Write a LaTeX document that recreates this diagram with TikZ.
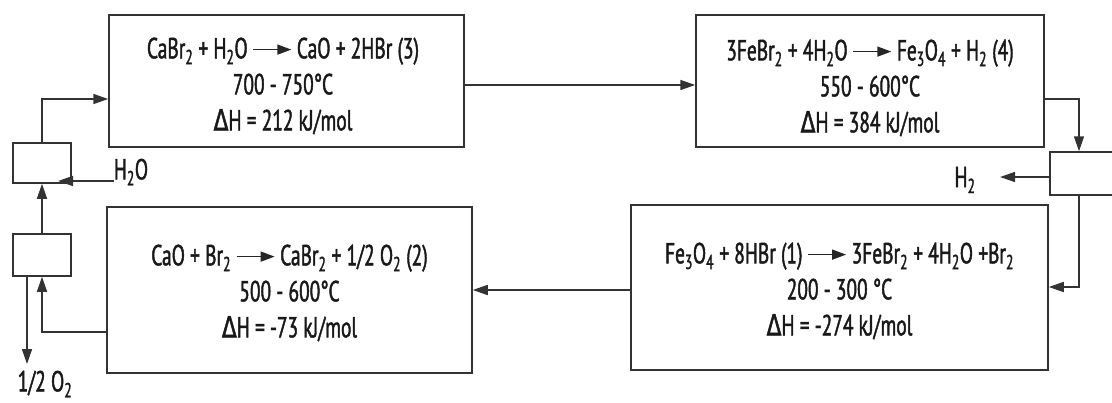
\documentclass[tikz,border=0pt]{standalone}
\usepackage{fontspec}
\setmainfont{PT Sans}[FakeStretch=0.67,FakeBold=1.5]
\newfontfamily\greekfont{DejaVu Sans}[FakeStretch=0.75,FakeBold=1.5]
\usetikzlibrary{arrows.meta}

% reaction arrow used inside the equations
\newcommand{\yields}{\tikz[baseline=-0.6ex,x=1pt,y=1pt]\draw[draw=black!85,line width=1.5pt,-{Triangle[length=14pt,width=10pt]}] (0,0) -- (38,0);}
\newcommand{\sub}[1]{\textsubscript{#1}}
\newcommand{\dH}{{\greekfont Δ}H}

\tikzset{
  reactor/.style={draw=black!80,line width=1.5pt,minimum width=#1,inner sep=0pt},
  unit/.style={draw=black!80,line width=1.5pt,inner sep=0pt},
  eqtext/.style={align=center,font=\fontsize{29}{36}\selectfont,text=black!90,inner sep=0pt},
  lbl/.style={font=\fontsize{29}{30}\selectfont,text=black!90,inner sep=0pt},
  flow/.style={draw=black!80,line width=1.5pt,-{Triangle[length=15pt,width=10pt]}}
}

\begin{document}
\begin{tikzpicture}[x=1pt,y=-1pt]
\useasboundingbox (0,0) rectangle (1112,402);

% reactor boxes
\node[reactor=355pt,minimum height=132pt] (A) at (286.5,81) {};
\node[reactor=348pt,minimum height=132pt] (B) at (870,81) {};
\node[reactor=365pt,minimum height=166pt] (C) at (289.5,290) {};
\node[reactor=417pt,minimum height=165pt] (D) at (839.5,287.5) {};

% separators
\node[unit,minimum width=80pt,minimum height=43pt] (R) at (1090,173.5) {};
\node[unit,minimum width=58pt,minimum height=40pt] (S1) at (42,163) {};
\node[unit,minimum width=58pt,minimum height=42pt] (S2) at (42,255) {};

% reaction texts
\node[eqtext] (At) at (283,86) {CaBr\sub{2} + H\sub{2}O\,\yields\,CaO + 2HBr (3)\\700 - 750°C\\\dH\ = 212 kJ/mol};
\node[eqtext] (Bt) at (870,88) {3FeBr\sub{2} + 4H\sub{2}O\,\yields\,Fe\sub{3}O\sub{4} + H\sub{2} (4)\\550 - 600°C\\\dH\ = 384 kJ/mol};
\node[eqtext] (Ct) at (289.5,293) {CaO + Br\sub{2}\,\yields\,CaBr\sub{2} + 1/2 O\sub{2} (2)\\500 - 600°C\\\dH\ = -73 kJ/mol};
\node[eqtext] (Dt) at (839.5,291) {Fe\sub{3}O\sub{4} + 8HBr (1)\,\yields\,3FeBr\sub{2} + 4H\sub{2}O +Br\sub{2}\\200 - 300 °C\\\dH\ = -274 kJ/mol};

% stream labels
\node[lbl] (h2) at (965,180) {H\sub{2}};
\node[lbl] (h2o) at (131,172) {H\sub{2}O};
\node[lbl] (o2) at (45,384) {1/2 O\sub{2}};

\coordinate (rx) at (1079,0);
\coordinate (h2tip) at (1000,177);
\coordinate (h2otip) at (58,181);
\coordinate (o2tip) at (27,364);

% connectors
\draw[flow] (A.east |- 0,85) -- (B.west |- 0,85);
\draw[flow] (B.east |- 0,99) -| (rx |- R.north);
\draw[flow] (rx |- R.south) |- (D.east |- 0,287);
\draw[flow] (R.west |- h2tip) -- (h2tip);
\draw[flow] (D.west |- 0,290) -- (C.east |- 0,290);
\draw[flow] (C.west |- 0,332) -| (S2.south);
\draw[flow] (S2.north) -- (S1.south);
\draw[flow] (S1.north) |- (A.west |- 0,99);
\draw[flow] (h2o.west |- h2otip) -- (h2otip);
\draw[flow] (o2tip |- S2.south) -- (o2tip);
\end{tikzpicture}
\end{document}
